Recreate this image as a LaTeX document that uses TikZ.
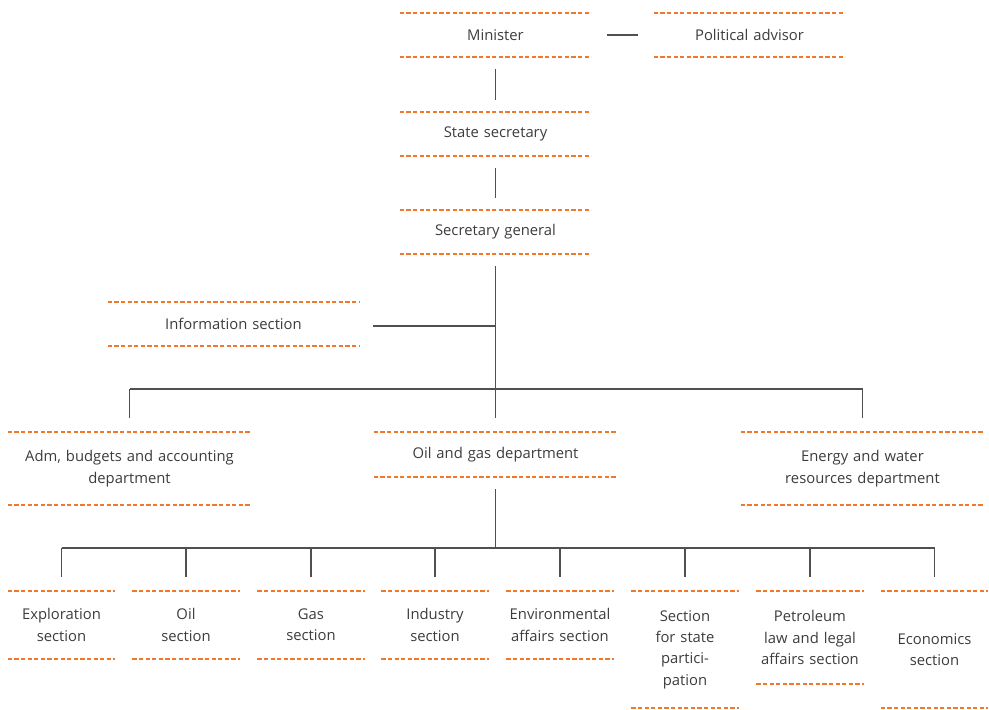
\documentclass[tikz,border=0pt]{standalone}
\usepackage{fontspec}
\setmainfont{Open Sans}
\definecolor{dashorange}{RGB}{240,120,40}
\definecolor{txtgrey}{RGB}{60,60,60}
\definecolor{linegrey}{RGB}{80,80,80}
\begin{document}
\begin{tikzpicture}[x=1pt,y=-1pt,
  ub/.style 2 args={inner sep=0pt, align=center, text width=#1pt, minimum height=#2pt,
    text=txtgrey, font=\fontsize{14.8}{21.3}\selectfont},
  dashline/.style={draw=dashorange, line width=1.8pt, dash pattern=on 4.2pt off 2.4pt},
  conn/.style={draw=linegrey, line width=1.3pt}]
\useasboundingbox (0,0) rectangle (989,710);
% top chain
\node[ub={191}{44}] (min) at (495.5,35) {Minister};
\node[ub={191}{44}] (pa) at (749.5,35) {Political advisor};
\node[ub={191}{44}] (ss) at (495.5,134) {State secretary};
\node[ub={191}{44}] (sg) at (495.5,232) {Secretary general};
\node[ub={251}{44}] (info) at (233.5,324) {Information section};
% departments
\node[ub={243}{73}] (adm) at (129.5,468.5) {Adm, budgets and accounting\\department};
\node[ub={243}{45}] (oil) at (495.5,454.5) {Oil and gas department};
\node[ub={243}{73}] (energy) at (862.5,468.5) {Energy and water\\resources department};
% sections
\node[ub={107}{68}] (s1) at (61.5,625) {Exploration\\section};
\node[ub={107}{68}] (s2) at (186,625) {Oil\\section};
\node[ub={107}{68}] (s3) at (311,625) {Gas\\section};
\node[ub={107}{68}] (s4) at (435,625) {Industry\\section};
\node[ub={107}{68}] (s5) at (560,625) {Environmental\\affairs section};
\node[ub={107}{117}] (s6) at (685,649.5) {Section\\for state\\partici-\\pation};
\node[ub={107}{93}] (s7) at (810,637.5) {Petroleum\\law and legal\\affairs section};
\node[ub={107}{117}] (s8) at (934.5,649.5) {Economics\\section};
% dashed rules above and below each unit
\foreach \n in {min,pa,ss,sg,info,adm,oil,energy,s1,s2,s3,s4,s5,s6,s7,s8}
  \draw[dashline] (\n.north west) -- (\n.north east) (\n.south west) -- (\n.south east);
% connectors
\coordinate (bus1) at (495.5,389);
\coordinate (bus2) at (495.5,548);
\draw[conn] ([xshift=16pt]min.east) -- ([xshift=-16pt]pa.west);
\draw[conn] ([yshift=-12pt]min.south) -- ([yshift=12pt]ss.north);
\draw[conn] ([yshift=-12pt]ss.south) -- ([yshift=12pt]sg.north);
\draw[conn] ([yshift=-12pt]sg.south) -- ([yshift=14pt]oil.north);
\draw[conn] ([xshift=14pt,yshift=-2pt]info.east) -- ([yshift=-2pt]info.east -| sg.south);
\draw[conn] (adm.north |- bus1) -- (energy.north |- bus1);
\draw[conn] (adm.north |- bus1) -- ([yshift=14pt]adm.north);
\draw[conn] (energy.north |- bus1) -- ([yshift=14pt]energy.north);
\draw[conn] ([yshift=-12pt]oil.south) -- (bus2);
\draw[conn] (s1.north |- bus2) -- (s8.north |- bus2);
\foreach \n in {s1,s2,s3,s4,s5,s6,s7,s8}
  \draw[conn] (\n.north |- bus2) -- ([yshift=14pt]\n.north);
\end{tikzpicture}
\end{document}
